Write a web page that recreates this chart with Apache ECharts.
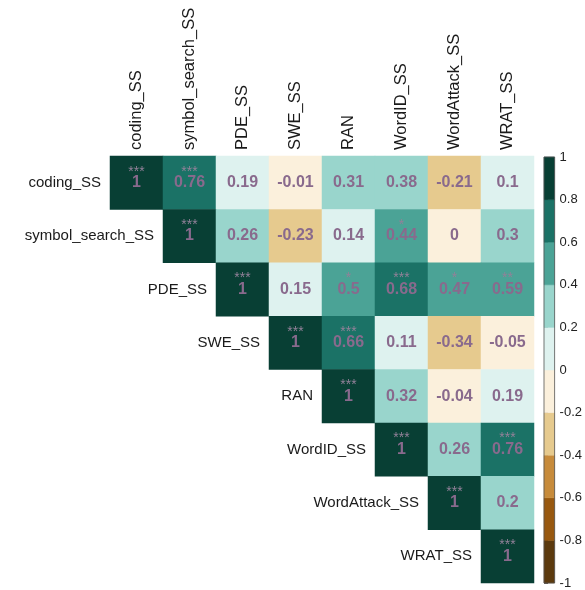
<!DOCTYPE html>
<html>
<head>
<meta charset="utf-8">
<script src="https://cdn.jsdelivr.net/npm/echarts@6/dist/echarts.min.js"></script>
<style>
  html, body { margin: 0; padding: 0; background: #ffffff; }
  #chart { width: 585px; height: 590px; }
</style>
</head>
<body>
<div id="chart"></div>
<script>
// Variables of the correlation matrix (rows and columns share the same order)
const variables = ['coding_SS', 'symbol_search_SS', 'PDE_SS', 'SWE_SS', 'RAN', 'WordID_SS', 'WordAttack_SS', 'WRAT_SS'];

// Upper triangle: each row starts at the diagonal
const corrRows = [
  [1, 0.76, 0.19, -0.01, 0.31, 0.38, -0.21, 0.1],
  [1, 0.26, -0.23, 0.14, 0.44, 0, 0.3],
  [1, 0.15, 0.5, 0.68, 0.47, 0.59],
  [1, 0.66, 0.11, -0.34, -0.05],
  [1, 0.32, -0.04, 0.19],
  [1, 0.26, 0.76],
  [1, 0.2],
  [1]
];

// Significance marks, same layout as corrRows
const starRows = [
  ['***', '***', '', '', '', '', '', ''],
  ['***', '', '', '', '*', '', ''],
  ['***', '', '*', '***', '*', '**'],
  ['***', '***', '', '', ''],
  ['***', '', '', ''],
  ['***', '', '***'],
  ['***', ''],
  ['***']
];

// Colour scale breaks (-1 .. 1 in steps of 0.2) and one colour per bin
const scaleBreaks = [-1, -0.8, -0.6, -0.4, -0.2, 0, 0.2, 0.4, 0.6, 0.8, 1];
const binColors = ['#5c3a0e', '#98580f', '#c78b3b', '#e6ca8e', '#fbf0dc',
                   '#def2ef', '#99d5cc', '#4ba396', '#1b7266', '#083f34'];

const FONT = "'Liberation Sans', Arial, Helvetica, sans-serif";
const VALUE_COLOR = '#896a8d';
const STAR_COLOR = '#928199';

// Heatmap cells: [column, row, value]; star positions kept with their marks
const cells = [];
const starPoints = [];
const starMarks = [];
corrRows.forEach((row, r) => {
  row.forEach((v, k) => {
    const c = r + k;
    cells.push([c, r, v]);
    if (starRows[r][k]) {
      starPoints.push([c, r]);
      starMarks.push(starRows[r][k]);
    }
  });
});

// Piecewise mapping: 0 falls in the (-0.2, 0] bin, 0.2 in [0.2, 0.4)
const pieces = [];
for (let i = 0; i < binColors.length; i++) {
  const lo = scaleBreaks[i], hi = scaleBreaks[i + 1];
  const p = { color: binColors[i] };
  if (lo < 0) { p.gt = lo; p.lte = hi; } else { p.gte = lo; p.lt = hi; }
  if (i === 0) { delete p.gt; p.gte = lo; }
  if (i === binColors.length - 1) { delete p.lt; p.lte = hi; }
  pieces.push(p);
}

// Legend bar segments: [lower, upper, bin index]
const barSegments = binColors.map((_, i) => [scaleBreaks[i], scaleBreaks[i + 1], i]);

const chart = echarts.init(document.getElementById('chart'), null, { renderer: 'canvas' });

chart.setOption({
  backgroundColor: '#ffffff',
  animation: false,
  textStyle: { fontFamily: FONT },
  grid: [
    { left: 110, top: 156, width: 424, height: 427 },
    { left: 544, top: 157, width: 16, height: 426, show: true, z: 5,
      backgroundColor: 'transparent', borderColor: '#555', borderWidth: 0.8 }
  ],
  xAxis: [
    {
      gridIndex: 0, type: 'category', data: variables, position: 'top',
      axisLine: { show: false }, axisTick: { show: false }, splitLine: { show: false },
      axisLabel: { rotate: -90, margin: 6, fontSize: 16.5, color: '#1a1a1a', fontFamily: FONT, interval: 0 }
    },
    { gridIndex: 1, type: 'value', min: 0, max: 1, show: false }
  ],
  yAxis: [
    {
      gridIndex: 0, type: 'category', data: variables, inverse: true, show: false
    },
    {
      gridIndex: 1, type: 'value', min: -1, max: 1, interval: 0.2, position: 'right',
      axisLine: { show: false },
      axisTick: { show: true, length: 4, lineStyle: { color: '#444', width: 0.8 } },
      splitLine: { show: false },
      axisLabel: { margin: 5, fontSize: 13, color: '#222', fontFamily: FONT,
                   formatter: v => String(Math.round(v * 10) / 10) }
    }
  ],
  visualMap: {
    type: 'piecewise', show: false, seriesIndex: 0, dimension: 2, pieces: pieces
  },
  series: [
    {
      type: 'heatmap', xAxisIndex: 0, yAxisIndex: 0, data: cells,
      itemStyle: { borderWidth: 0 },
      label: {
        show: true, fontSize: 16, fontWeight: 'bold', color: VALUE_COLOR, fontFamily: FONT,
        formatter: p => String(p.value[2])
      },
      emphasis: { disabled: true }
    },
    {
      // significance stars sit just above each value
      type: 'custom', xAxisIndex: 0, yAxisIndex: 0, data: starPoints, z: 4,
      renderItem: (params, api) => {
        const pt = api.coord([api.value(0), api.value(1)]);
        return {
          type: 'text', x: pt[0], y: pt[1] - 11,
          style: {
            text: starMarks[params.dataIndex], fill: STAR_COLOR, font: '14px ' + FONT,
            align: 'center', verticalAlign: 'middle'
          }
        };
      },
      silent: true
    },
    {
      // row names placed just left of the diagonal cell
      type: 'custom', xAxisIndex: 0, yAxisIndex: 0,
      data: variables.map((_, i) => [i, i]),
      renderItem: (params, api) => {
        const pt = api.coord([api.value(0), api.value(1)]);
        const size = api.size([1, 1]);
        return {
          type: 'text',
          x: pt[0] - size[0] / 2 - 9, y: pt[1],
          style: {
            text: variables[api.value(0)], fill: '#1a1a1a', font: '15px ' + FONT,
            align: 'right', verticalAlign: 'middle'
          }
        };
      },
      silent: true
    },
    {
      // colour legend bar
      type: 'custom', xAxisIndex: 1, yAxisIndex: 1, data: barSegments,
      renderItem: (params, api) => {
        const top = api.coord([0, api.value(1)]);
        const bottom = api.coord([1, api.value(0)]);
        return {
          type: 'rect',
          shape: { x: top[0], y: top[1], width: bottom[0] - top[0], height: bottom[1] - top[1] },
          style: { fill: binColors[api.value(2)], stroke: binColors[api.value(2)], lineWidth: 0.5 }
        };
      },
      silent: true
    }
  ]
});
</script>
</body>
</html>
